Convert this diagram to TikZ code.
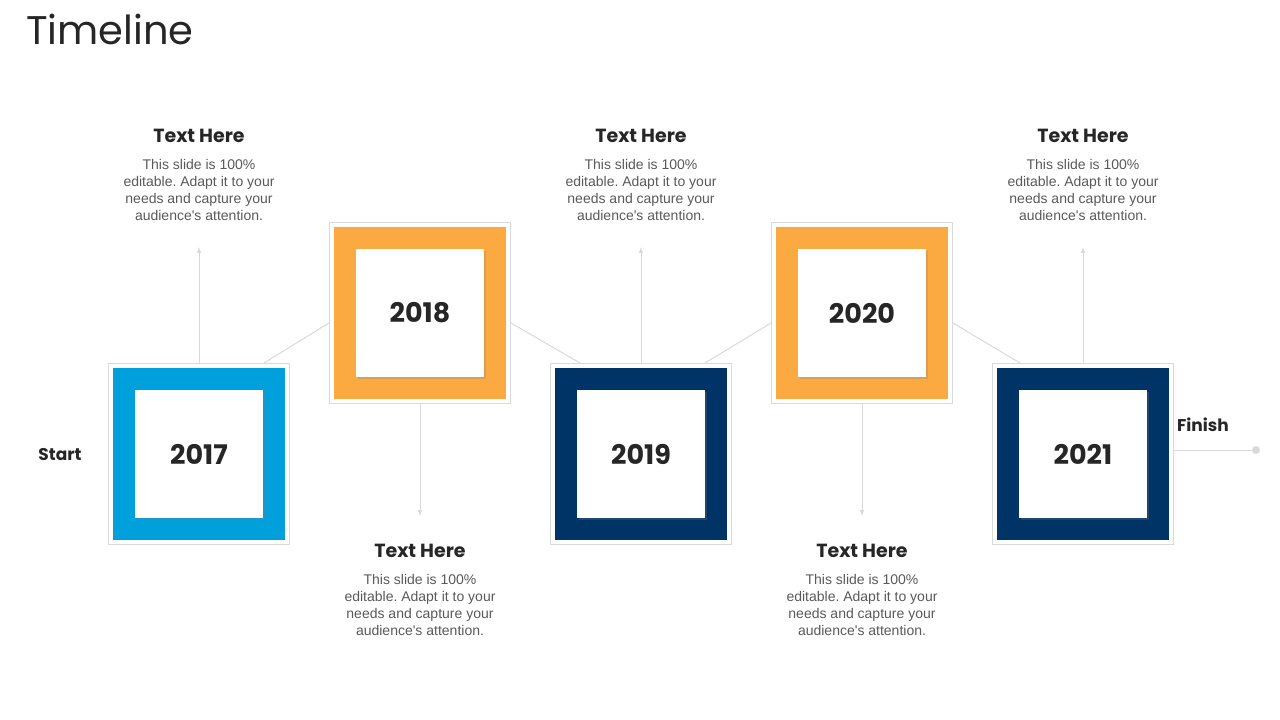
\documentclass[tikz,border=0pt]{standalone}
\usepackage{fontspec}
\setmainfont{Liberation Sans}
\newfontfamily\headfont{Poppins}
\usepackage{tikz}
\usetikzlibrary{calc,shadows}
\frenchspacing

\definecolor{tlblue}{RGB}{0,160,220}
\definecolor{tlorange}{RGB}{251,169,65}
\definecolor{tlnavy}{RGB}{0,51,102}
\definecolor{tlgray}{RGB}{217,217,217}
\definecolor{tldark}{RGB}{38,38,38}
\definecolor{tlbody}{RGB}{89,89,89}

\begin{document}
\begin{tikzpicture}[x=1pt,y=-1pt,
    framebox/.style={draw=tlgray,line width=1pt,fill=white,minimum size=181pt,inner sep=0pt},
    colorbox/.style={minimum size=172pt,inner sep=0pt},
    yearbox/.style={fill=white,minimum size=128pt,inner sep=0pt,
      drop shadow={shadow xshift=2pt,shadow yshift=-2pt,opacity=0.25},
      font=\headfont\bfseries\fontsize{27}{30}\selectfont,text=tldark},
    headtxt/.style={font=\headfont\bfseries\fontsize{19}{22}\selectfont,text=tldark},
    bodytxt/.style={align=center,font=\fontsize{14}{16.7}\selectfont,text=tlbody},
    conn/.style={draw=tlgray,line width=1pt},
    arr/.style={conn,-latex}]
    \useasboundingbox (0,0) rectangle (1280,720);
    % Title
    \node[anchor=base west,inner sep=0pt,font=\headfont\fontsize{40}{44}\selectfont,text=tldark] (title) at (26,44) {Timeline};
    % Year boxes
    \node[framebox] (f17) at (199,454) {};
    \node[colorbox,fill=tlblue] (c17) at (f17) {};
    \node[yearbox] (w17) at (f17) {2017};
    \node[framebox] (f18) at (420,313) {};
    \node[colorbox,fill=tlorange] (c18) at (f18) {};
    \node[yearbox] (w18) at (f18) {2018};
    \node[framebox] (f19) at (641,454) {};
    \node[colorbox,fill=tlnavy] (c19) at (f19) {};
    \node[yearbox] (w19) at (f19) {2019};
    \node[framebox] (f20) at (862,313) {};
    \node[colorbox,fill=tlorange] (c20) at (f20) {};
    \node[yearbox] (w20) at (f20) {2020};
    \node[framebox] (f21) at (1083,454) {};
    \node[colorbox,fill=tlnavy] (c21) at (f21) {};
    \node[yearbox] (w21) at (f21) {2021};
    % Zigzag links
    \coordinate (z17) at ($(f17.north)+(65,0)$);
    \coordinate (z18a) at ($(f18.west)+(0,10)$);
    \coordinate (z18b) at ($(f18.east)+(0,10)$);
    \coordinate (z19a) at ($(f19.north)+(-61,0)$);
    \coordinate (z19b) at ($(f19.north)+(64,0)$);
    \coordinate (z20a) at ($(f20.west)+(0,10)$);
    \coordinate (z20b) at ($(f20.east)+(0,10)$);
    \coordinate (z21) at ($(f21.north)+(-63,0)$);
    \draw[conn] (z17)--(z18a);
    \draw[conn] (z18b)--(z19a);
    \draw[conn] (z19b)--(z20a);
    \draw[conn] (z20b)--(z21);
    % Arrows to the texts
    \coordinate (a17) at ($(f17.north)+(0,-116)$);
    \coordinate (a18) at ($(f18.south)+(0,112)$);
    \coordinate (a19) at ($(f19.north)+(0,-116)$);
    \coordinate (a20) at ($(f20.south)+(0,112)$);
    \coordinate (a21) at ($(f21.north)+(0,-116)$);
    \draw[arr] (f17.north)--(a17);
    \draw[arr] (f18.south)--(a18);
    \draw[arr] (f19.north)--(a19);
    \draw[arr] (f20.south)--(a20);
    \draw[arr] (f21.north)--(a21);
    % Texts
    \node[headtxt] (h17) at (199,136) {Text Here};
    \node[bodytxt] (b17) at (199,190) {This slide is 100\%\\editable. Adapt it to your\\needs and capture your\\audience\textquotesingle s attention.};
    \node[headtxt] (h18) at (420,551) {Text Here};
    \node[bodytxt] (b18) at (420,605) {This slide is 100\%\\editable. Adapt it to your\\needs and capture your\\audience\textquotesingle s attention.};
    \node[headtxt] (h19) at (641,136) {Text Here};
    \node[bodytxt] (b19) at (641,190) {This slide is 100\%\\editable. Adapt it to your\\needs and capture your\\audience\textquotesingle s attention.};
    \node[headtxt] (h20) at (862,551) {Text Here};
    \node[bodytxt] (b20) at (862,605) {This slide is 100\%\\editable. Adapt it to your\\needs and capture your\\audience\textquotesingle s attention.};
    \node[headtxt] (h21) at (1083,136) {Text Here};
    \node[bodytxt] (b21) at (1083,190) {This slide is 100\%\\editable. Adapt it to your\\needs and capture your\\audience\textquotesingle s attention.};
    % Start and finish
    \node[font=\headfont\bfseries\fontsize{17}{20}\selectfont,text=tldark] (start) at (60,455) {Start};
    \node[font=\headfont\bfseries\fontsize{17}{20}\selectfont,text=tldark] (finish) at (1203,425) {Finish};
    \node[circle,fill=tlgray,minimum size=8pt,inner sep=0pt] (dot) at (1256,450) {};
    \draw[conn] ($(f21.east)+(0,-4)$) coordinate (fin) -- (dot);
\end{tikzpicture}
\end{document}
